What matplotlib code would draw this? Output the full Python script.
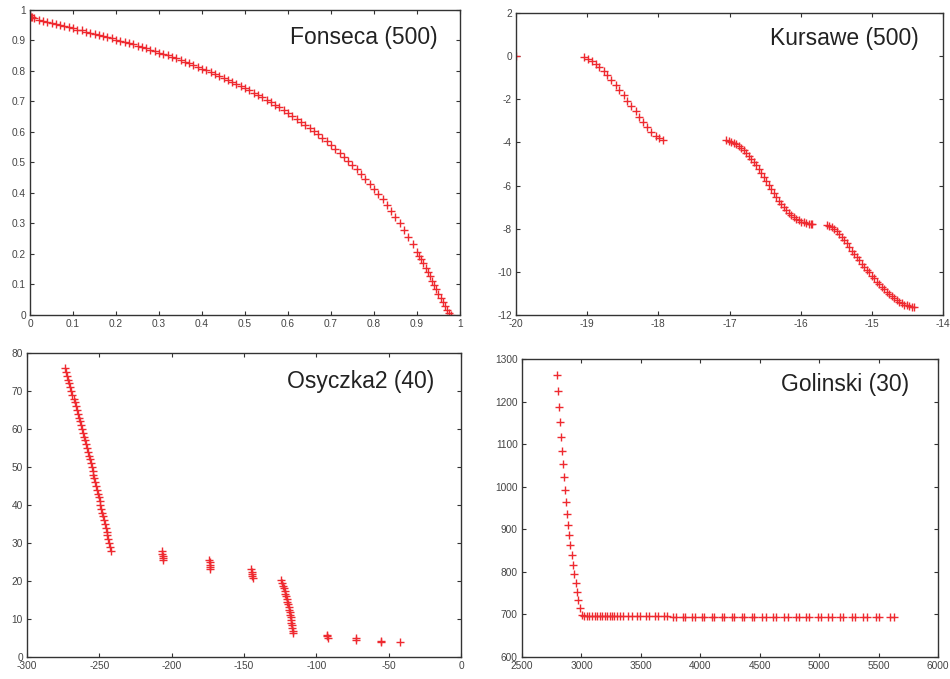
import matplotlib
matplotlib.use('Agg')
import matplotlib.pyplot as plt

plt.rcParams['font.family'] = ['Liberation Sans', 'DejaVu Sans']

# Fonseca (500) front
fonseca_x = [0.0, 0.002, 0.005, 0.01, 0.02, 0.03, 0.04, 0.05, 0.06, 0.07, 0.08, 0.09,
             0.10, 0.11, 0.12, 0.13, 0.14, 0.15, 0.16, 0.17, 0.18, 0.19, 0.20, 0.21,
             0.22, 0.23, 0.24, 0.25, 0.26, 0.27, 0.28, 0.29, 0.30, 0.31, 0.32, 0.33,
             0.34, 0.35, 0.36, 0.37, 0.38, 0.39, 0.40, 0.41, 0.42, 0.43, 0.44, 0.45,
             0.46, 0.47, 0.48, 0.49, 0.50, 0.51, 0.52, 0.53, 0.54, 0.55, 0.56, 0.57,
             0.58, 0.59, 0.60, 0.61, 0.62, 0.63, 0.64, 0.65, 0.66, 0.67, 0.68, 0.69,
             0.70, 0.71, 0.72, 0.73, 0.74, 0.75, 0.76, 0.77, 0.78, 0.79, 0.80, 0.81,
             0.82, 0.83, 0.84, 0.85, 0.86, 0.87, 0.88, 0.89, 0.90, 0.905, 0.91, 0.915,
             0.92, 0.925, 0.93, 0.935, 0.94, 0.945, 0.95, 0.955, 0.96, 0.965, 0.97,
             0.975, 0.98]
fonseca_y = [0.982, 0.978, 0.976, 0.973, 0.968, 0.964, 0.961, 0.957, 0.953, 0.950, 0.947, 0.943,
             0.940, 0.936, 0.933, 0.929, 0.926, 0.922, 0.918, 0.915, 0.911, 0.907, 0.903, 0.899,
             0.895, 0.891, 0.887, 0.883, 0.878, 0.874, 0.869, 0.865, 0.860, 0.856, 0.851, 0.846,
             0.841, 0.836, 0.830, 0.825, 0.820, 0.814, 0.808, 0.802, 0.797, 0.791, 0.784, 0.778,
             0.771, 0.765, 0.758, 0.751, 0.744, 0.737, 0.729, 0.722, 0.714, 0.706, 0.698, 0.689,
             0.681, 0.672, 0.663, 0.654, 0.644, 0.634, 0.624, 0.614, 0.603, 0.592, 0.581, 0.569,
             0.557, 0.545, 0.532, 0.519, 0.506, 0.492, 0.477, 0.462, 0.447, 0.431, 0.414, 0.397,
             0.379, 0.361, 0.341, 0.321, 0.300, 0.279, 0.256, 0.232, 0.208, 0.195, 0.182, 0.169,
             0.155, 0.142, 0.128, 0.113, 0.099, 0.084, 0.070, 0.055, 0.042, 0.028, 0.016,
             0.006, 0.0005]

# Kursawe (500): lone point plus three arcs
kursawe_x = [-20.0,
             -19.05, -18.99, -18.93, -18.88, -18.83, -18.77, -18.72, -18.66, -18.60, -18.55,
             -18.49, -18.44, -18.38, -18.32, -18.27, -18.21, -18.16, -18.10, -18.04, -17.99, -17.93,
             -17.05, -17.01, -16.98, -16.94, -16.91, -16.87, -16.84, -16.80, -16.77, -16.73,
             -16.70, -16.66, -16.63, -16.59, -16.56, -16.52, -16.49, -16.45, -16.42, -16.38,
             -16.35, -16.31, -16.28, -16.24, -16.21, -16.17, -16.14, -16.10, -16.07, -16.03,
             -16.00, -15.96, -15.93, -15.89, -15.86, -15.84,
             -15.63, -15.60, -15.56, -15.53, -15.49, -15.46, -15.42, -15.39, -15.35, -15.32,
             -15.28, -15.25, -15.21, -15.18, -15.14, -15.11, -15.07, -15.04, -15.00, -14.97,
             -14.93, -14.90, -14.86, -14.83, -14.79, -14.76, -14.72, -14.69, -14.65, -14.62,
             -14.58, -14.55, -14.51, -14.48, -14.44, -14.41]
kursawe_y = [0.0,
             -0.05, -0.12, -0.22, -0.35, -0.50, -0.68, -0.88, -1.09, -1.32, -1.56,
             -1.80, -2.06, -2.32, -2.56, -2.80, -3.05, -3.28, -3.50, -3.68, -3.80, -3.87,
             -3.87, -3.92, -3.98, -4.04, -4.09, -4.17, -4.26, -4.37, -4.47, -4.62,
             -4.76, -4.92, -5.07, -5.25, -5.40, -5.60, -5.77, -5.98, -6.14, -6.36,
             -6.52, -6.71, -6.84, -7.00, -7.12, -7.26, -7.36, -7.47, -7.54, -7.61,
             -7.67, -7.71, -7.74, -7.76, -7.77, -7.77,
             -7.81, -7.86, -7.94, -8.02, -8.12, -8.25, -8.40, -8.53, -8.68, -8.84,
             -9.02, -9.17, -9.33, -9.47, -9.63, -9.77, -9.90, -10.03, -10.18, -10.30,
             -10.45, -10.57, -10.70, -10.80, -10.92, -11.01, -11.12, -11.21, -11.30, -11.38,
             -11.46, -11.52, -11.56, -11.59, -11.61, -11.62]

# Osyczka2 (40)
osyczka_x = [-274.0, -273.2, -272.4, -271.7, -270.9, -270.1, -269.4, -268.6, -267.8, -267.0,
             -266.3, -265.5, -264.8, -264.1, -263.4, -262.7, -262.0, -261.3, -260.6, -259.9,
             -259.1, -258.4, -257.7, -257.1, -256.5, -255.9, -255.3, -254.7, -254.1, -253.5,
             -252.8, -252.2, -251.6, -251.0, -250.4, -249.8, -249.2, -248.6, -248.0, -247.4,
             -246.8, -246.2, -245.6, -245.0, -244.4, -243.8, -243.1, -242.4, -241.8,
             -206.5, -206.4, -206.2, -206.0, -205.9,
             -174.0, -173.8, -173.6, -173.4, -173.2,
             -144.8, -144.6, -144.4, -144.2, -144.0,
             -124.3, -123.7, -123.0, -122.4, -121.9, -121.4, -121.0, -120.5, -120.0, -119.6,
             -119.2, -118.8, -118.4, -118.1, -117.8, -117.5, -117.2, -116.9, -116.6, -116.3, -116.0,
             -92.6, -92.4, -92.2, -72.6, -72.4, -55.6, -55.4, -42.1]
osyczka_y = [76, 75, 74, 73, 72, 71, 70, 69, 68, 67,
             66, 65, 64, 63, 62, 61, 60, 59, 58, 57,
             56, 55, 54, 53, 52, 51, 50, 49, 48, 47,
             46, 45, 44, 43, 42, 41, 40, 39, 38, 37,
             36, 35, 34, 33, 32, 31, 30, 29, 28,
             27.8, 27.2, 26.6, 26.0, 25.5,
             25.5, 24.9, 24.3, 23.7, 23.2,
             23.1, 22.5, 21.9, 21.3, 20.8,
             20.2, 19.5, 18.8, 18.1, 17.4, 16.7, 16.0, 15.3, 14.6, 13.9,
             13.2, 12.5, 11.8, 11.1, 10.4, 9.7, 9.0, 8.3, 7.6, 6.9, 6.3,
             5.9, 5.4, 5.0, 4.9, 4.5, 4.2, 4.0, 3.9]

# Golinski (30)
golinski_x = [2792, 2800, 2808, 2817, 2825, 2834, 2842, 2851, 2859, 2867, 2876, 2887, 2895,
              2907, 2918, 2929, 2940, 2952, 2963, 2974, 2985,
              3001, 3022, 3043, 3064, 3089, 3110, 3131, 3152, 3173, 3194, 3215, 3236, 3257,
              3278, 3299, 3324, 3347, 3394, 3423, 3465, 3493, 3543, 3566, 3619, 3642, 3695,
              3723, 3773, 3796, 3852, 3874, 3930, 3953, 4012, 4034, 4096, 4118, 4180, 4202,
              4264, 4286, 4348, 4370, 4432, 4454, 4522, 4550, 4609, 4637, 4707, 4735, 4803,
              4830, 4889, 4917, 4988, 5015, 5077, 5106, 5175, 5203, 5274, 5302, 5371, 5400,
              5478, 5506, 5596, 5630]
golinski_y = [1263, 1224, 1187, 1151, 1117, 1084, 1053, 1022, 993, 965, 937, 911, 886,
              862, 839, 816, 795, 774, 753, 734, 715,
              697.5, 697.4, 697.3, 697.2, 697.1, 697.0, 697.0, 696.9, 696.8, 696.7, 696.6, 696.5, 696.5,
              696.4, 696.3, 696.2, 696.1, 696.0, 695.9, 695.8, 695.7, 695.6, 695.5, 695.5, 695.4, 695.3,
              695.2, 695.1, 695.1, 695.0, 694.9, 694.9, 694.8, 694.7, 694.7, 694.6, 694.6, 694.5, 694.5,
              694.4, 694.4, 694.3, 694.3, 694.2, 694.2, 694.1, 694.1, 694.0, 694.0, 693.9, 693.9, 693.8,
              693.8, 693.7, 693.7, 693.6, 693.6, 693.5, 693.5, 693.4, 693.4, 693.3, 693.3, 693.2, 693.2,
              693.1, 693.1, 693.0, 693.0]

red = '#ee2a30'
frame = '#333333'

fig = plt.figure(figsize=(9.5, 6.79), dpi=100)

panels = [
    ([0.0316, 0.5361, 0.4526, 0.4492], fonseca_x, fonseca_y, 'Fonseca (500)',
     (0, 1), (0, 1), [i / 10 for i in range(11)], [i / 10 for i in range(11)],
     (0.947, 0.911)),
    ([0.5432, 0.5361, 0.4495, 0.4448], kursawe_x, kursawe_y, 'Kursawe (500)',
     (-20, -14), (-12, 2), list(range(-20, -13)), list(range(-12, 3, 2)),
     (0.944, 0.914)),
    ([0.0284, 0.0324, 0.4568, 0.4477], osyczka_x, osyczka_y, 'Osyczka2 (40)',
     (-300, 0), (0, 80), list(range(-300, 1, 50)), list(range(0, 81, 10)),
     (0.938, 0.905)),
    ([0.5495, 0.0324, 0.4379, 0.4389], golinski_x, golinski_y, 'Golinski (30)',
     (2500, 6000), (600, 1300), list(range(2500, 6001, 500)), list(range(600, 1301, 100)),
     (0.930, 0.913)),
]

for rect, xs, ys, title, xlim, ylim, xt, yt, tpos in panels:
    ax = fig.add_axes(rect)
    ax.plot(xs, ys, linestyle='none', marker='+', color=red,
            markersize=5.2, markeredgewidth=1.0)
    ax.set_xlim(*xlim)
    ax.set_ylim(*ylim)
    ax.set_xticks(xt)
    ax.set_yticks(yt)
    ax.set_xticklabels(['%g' % v for v in xt])
    ax.set_yticklabels(['%g' % v for v in yt])
    ax.tick_params(direction='in', length=3, width=0.8, top=True, right=True,
                   labelsize=7.3, labelcolor='#444444', color=frame, pad=3)
    for sp in ax.spines.values():
        sp.set_color(frame)
        sp.set_linewidth(1.0)
    ax.text(tpos[0], tpos[1], title, transform=ax.transAxes, ha='right', va='center',
            fontsize=16.5, color='#222222')

fig.savefig('out.png', dpi=100)
